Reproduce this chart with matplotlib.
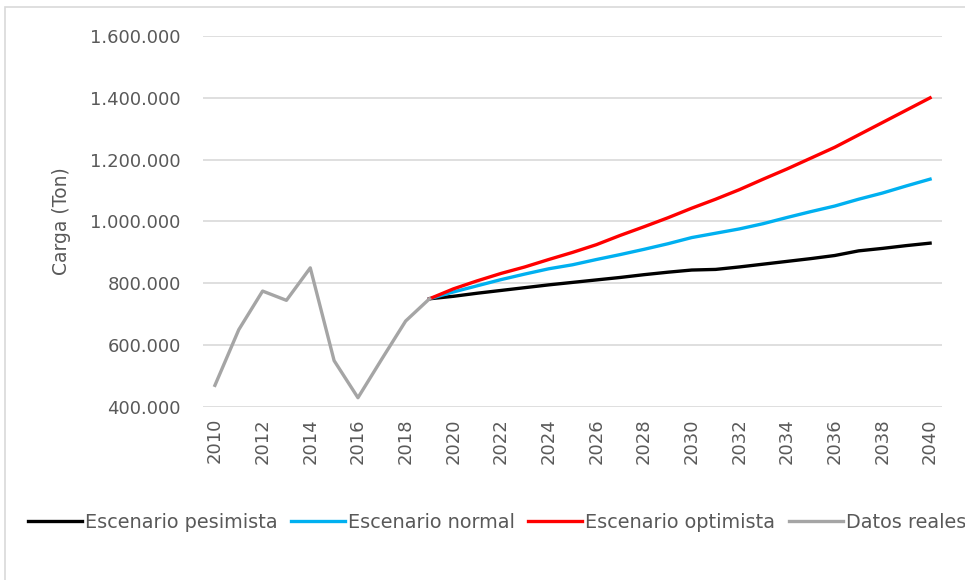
import matplotlib.pyplot as plt
from matplotlib.patches import Rectangle
from matplotlib.ticker import FuncFormatter

# datos reales (toneladas)
years_real = [2010, 2011, 2012, 2013, 2014, 2015, 2016, 2017, 2018, 2019]
real = [470000, 650000, 775000, 745000, 850000, 550000, 430000, 555000, 678000, 750000]

# escenarios de proyeccion 2019-2040
years_proj = list(range(2019, 2041))
pesimista = [750000, 758000, 768000, 777000, 786000, 795000, 803000, 811000, 819000, 828000, 836000,
             843000, 845000, 853000, 862000, 871000, 880000, 890000, 905000, 913000, 922000, 930000]
normal = [750000, 772000, 792000, 812000, 830000, 847000, 860000, 877000, 893000, 910000, 928000,
          948000, 962000, 976000, 993000, 1013000, 1032000, 1050000, 1072000, 1092000, 1115000, 1137000]
optimista = [750000, 782000, 808000, 832000, 853000, 877000, 900000, 925000, 955000, 983000, 1012000,
             1043000, 1072000, 1103000, 1137000, 1170000, 1205000, 1240000, 1280000, 1320000, 1360000, 1400000]

all_years = list(range(2010, 2041))
tick_years = all_years[::2]
yticks = [400000, 600000, 800000, 1000000, 1200000, 1400000, 1600000]

txt = '#595959'
fs = 13

fig = plt.figure(figsize=(9.65, 5.8), dpi=100)
# marco del grafico (cortado a la derecha y abajo)
fig.patches.append(Rectangle((5 / 965, -0.2), 1.2, (580 - 7) / 580 + 0.2, transform=fig.transFigure,
                             fill=False, edgecolor='#d9d9d9', linewidth=1.2))

ax = fig.add_axes([203 / 965, (580 - 407) / 580, (942 - 203) / 965, 371 / 580])

idx = lambda ys: [all_years.index(y) for y in ys]
ax.plot(idx(years_proj), pesimista, color='black', lw=2.4, label='Escenario pesimista')
ax.plot(idx(years_proj), normal, color='#00b0f0', lw=2.4, label='Escenario normal')
ax.plot(idx(years_proj), optimista, color='#ff0000', lw=2.4, label='Escenario optimista')
ax.plot(idx(years_real), real, color='#a5a5a5', lw=2.4, label='Datos reales')

ax.set_xlim(-0.5, len(all_years) - 0.5)
ax.set_ylim(400000, 1600000)
ax.set_yticks(yticks)
ax.yaxis.set_major_formatter(FuncFormatter(lambda v, p: f'{int(v):,}'.replace(',', '.')))
ax.set_xticks(idx(tick_years))
ax.set_xticklabels([str(y) for y in tick_years], rotation=90)
ax.grid(axis='y', color='#d9d9d9', lw=1.2)
ax.set_axisbelow(True)
for s in ax.spines.values():
    s.set_visible(False)
ax.tick_params(axis='both', length=0, labelsize=fs, colors=txt)
ax.tick_params(axis='y', pad=16)
ax.tick_params(axis='x', pad=8)
ax.set_ylabel('Carga (Ton)', fontsize=13.5, color=txt, labelpad=14)

fig.legend(loc='center left', bbox_to_anchor=(28 / 965, 1 - 522 / 580), ncol=4, frameon=False,
           fontsize=13.9, labelcolor=txt, handlelength=2.8, handletextpad=0.15, columnspacing=0.7,
           borderaxespad=0, borderpad=0)

fig.savefig('out.png', dpi=100)
